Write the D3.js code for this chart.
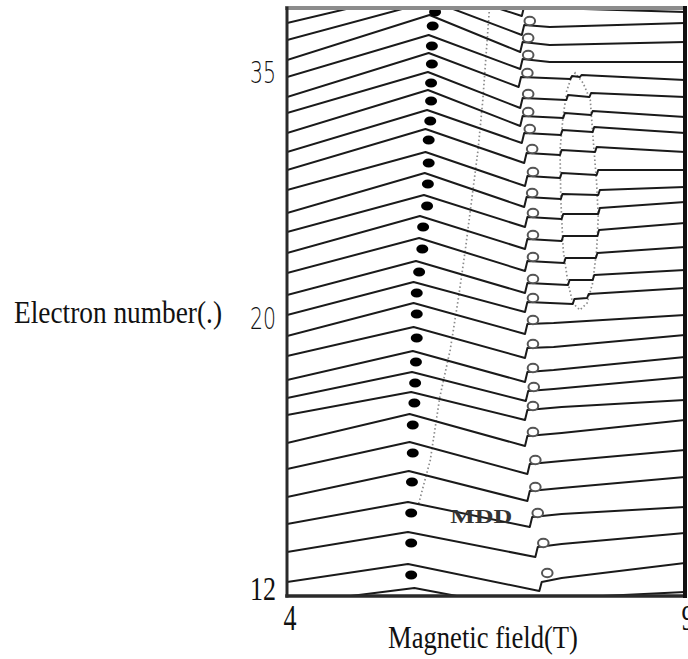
<!DOCTYPE html>
<html>
<head>
<meta charset="utf-8">
<script src="https://cdn.jsdelivr.net/npm/d3@7/dist/d3.min.js"></script>
<style>
  body { margin: 0; background: #fff; }
</style>
</head>
<body>
<div id="chart"></div>
<script>
// traces from top (0) to bottom (28), y in arbitrary units, field in T
var startY   = [59.0, 57.3, 55.6, 53.6, 51.9, 49.9, 48.3, 46.3, 44.4, 42.6, 40.6, 38.3, 36.4, 34.3, 32.3, 30.1, 28.1, 26.0, 24.0, 21.6, 19.8, 18.1, 15.3, 12.7, 9.9, 7.2, 4.4, 1.4, -0.8]
var apexB    = [5.88, 5.86, 5.82, 5.79, 5.78, 5.78, 5.77, 5.77, 5.76, 5.74, 5.74, 5.73, 5.72, 5.67, 5.66, 5.62, 5.59, 5.59, 5.59, 5.58, 5.57, 5.56, 5.54, 5.54, 5.53, 5.52, 5.52, 5.52, 5.60]
var apexY    = [62.6, 60.8, 59.5, 58.1, 56.1, 54.3, 52.4, 50.6, 48.6, 46.7, 44.4, 42.3, 40.1, 38.0, 35.8, 33.5, 31.4, 29.3, 26.9, 24.5, 22.4, 20.4, 18.2, 15.4, 12.5, 9.4, 6.4, 3.2, 0.8]
var stepB    = [6.95, 6.95, 6.95, 6.93, 6.93, 6.91, 6.93, 6.93, 6.95, 6.98, 6.99, 6.98, 6.99, 6.99, 6.99, 6.99, 6.99, 6.99, 6.99, 6.99, 7.00, 6.99, 6.99, 7.02, 7.02, 7.05, 7.12, 7.17, 7.20]
var dipY     = [59.8, 58.0, 56.1, 54.4, 52.7, 50.9, 48.8, 47.0, 45.3, 43.3, 41.0, 38.9, 36.9, 34.7, 32.5, 30.3, 28.4, 26.2, 23.8, 21.4, 19.5, 17.6, 15.0, 12.2, 9.5, 6.9, 3.9, 0.5, -1.6]
var stepTopY = [60.8, 59.0, 57.1, 55.4, 53.7, 51.9, 49.8, 48.0, 46.3, 44.3, 42.0, 39.9, 37.9, 35.7, 33.5, 31.3, 29.4, 27.2, 24.8, 22.4, 20.5, 18.6, 16.0, 13.2, 10.5, 7.9, 4.9, 1.4, -0.6]
var endY     = [60.1, 58.4, 57.3, 55.4, 53.4, 51.6, 49.9, 47.9, 46.3, 44.4, 42.6, 40.9, 39.4, 37.3, 34.9, 32.6, 30.8, 28.1, 26.1, 23.9, 21.9, 19.6, 17.6, 14.6, 11.9, 8.9, 6.3, 3.3, 0.4]

// knots between the step and the right edge (small steps where the dotted loop crosses)
var afterB = [
	[7.30], [7.30], [7.30], [7.30], [7.30],
	[7.56, 7.58, 7.68, 7.70],
	[7.51, 7.53, 7.80, 7.82],
	[7.47, 7.49, 7.82, 7.84],
	[7.44, 7.46, 7.84, 7.86],
	[7.43, 7.45, 7.87, 7.89],
	[7.43, 7.45, 7.89, 7.91],
	[7.44, 7.46, 7.91, 7.93],
	[7.45, 7.47, 7.91, 7.93],
	[7.45, 7.47, 7.90, 7.92],
	[7.48, 7.50, 7.88, 7.90],
	[7.53, 7.55, 7.84, 7.86],
	[7.59, 7.61, 7.77, 7.79],
	[7.35], [7.35], [7.35], [7.35],
	[7.45], [7.45], [7.45], [7.45], [7.45], [7.45], [7.45], [7.45]
]
var afterY = [
	[60.6], [58.8], [56.9], [55.1], [53.4],
	[51.7, 52.0, 51.9, 52.1],
	[49.6, 50.1, 49.9, 50.3],
	[47.8, 48.3, 48.1, 48.5],
	[46.1, 46.6, 46.4, 46.9],
	[44.1, 44.6, 44.4, 44.9],
	[41.8, 42.3, 42.1, 42.6],
	[39.7, 40.2, 40.1, 40.6],
	[37.7, 38.2, 38.2, 38.8],
	[35.5, 36.0, 36.0, 36.6],
	[33.3, 33.8, 33.8, 34.3],
	[31.1, 31.6, 31.6, 32.1],
	[29.2, 29.7, 29.8, 30.2],
	[27.3], [24.9], [22.6], [20.7],
	[18.9], [16.3], [13.5], [10.8], [8.2], [5.2], [1.8], [-0.2]
]

// filled dots (peak) and open circles (step)
var dotB    = [5.86, 5.83, 5.82, 5.82, 5.81, 5.81, 5.80, 5.78, 5.78, 5.77, 5.76, 5.71, 5.70, 5.66, 5.63, 5.63, 5.63, 5.62, 5.61, 5.60, 5.58, 5.58, 5.57, 5.56, 5.56, 5.56]
var dotY    = [58.4, 57.0, 55.0, 53.2, 51.3, 49.5, 47.5, 45.6, 43.3, 41.2, 39.0, 36.9, 34.7, 32.4, 30.3, 28.2, 25.8, 23.4, 21.3, 19.3, 17.1, 14.3, 11.4, 8.3, 5.3, 2.1]
var circleB = [7.05, 7.03, 7.03, 7.02, 7.03, 7.03, 7.05, 7.08, 7.09, 7.08, 7.09, 7.09, 7.09, 7.09, 7.09, 7.09, 7.09, 7.09, 7.10, 7.09, 7.09, 7.12, 7.12, 7.15, 7.22, 7.27]
var circleY = [57.5, 55.8, 54.1, 52.3, 50.2, 48.4, 46.7, 44.7, 42.4, 40.3, 38.3, 36.1, 33.9, 31.7, 29.8, 27.6, 25.2, 22.8, 20.9, 19.0, 16.4, 13.6, 10.9, 8.3, 5.3, 2.3]

// dotted guide lines
var mddB = [6.54, 6.46, 6.40, 6.32, 6.24, 6.15, 6.05, 5.92, 5.80, 5.65]
var mddY = [58.4, 49.6, 44.6, 39.6, 34.6, 29.6, 24.6, 19.9, 13.6, 9.1]
var loopB = [7.51, 7.56, 7.62, 7.72, 7.81, 7.84, 7.89, 7.91, 7.89, 7.84, 7.77, 7.68, 7.59, 7.53, 7.47, 7.44, 7.43, 7.47, 7.51]
var loopY = [50.4, 51.6, 52.3, 51.3, 49.6, 46.3, 41.3, 37.9, 34.6, 31.3, 29.3, 28.6, 29.3, 31.3, 34.6, 39.6, 44.6, 48.1, 50.1]

var yTickValues = [52.4, 27.8, 0.9]
var yTickLabels = ['35', '20', '12']
var xTickValues = [4, 9]

var width = 688
var height = 659
var frame = { left: 287, right: 685, top: 8, bottom: 596 }

var svg = d3.select('#chart').append('svg')
	.attr('width', width)
	.attr('height', height)
	.style('font-family', 'Liberation Serif, serif')

var xScale = d3.scaleLinear()
	.domain([4, 9])
	.range([frame.left, frame.right])

var yScale = d3.scaleLinear()
	.domain([0, 58.8])
	.range([frame.bottom, frame.top])

svg.append('clipPath').attr('id', 'plot-clip')
	.append('rect')
	.attr('x', frame.left)
	.attr('y', frame.top)
	.attr('width', frame.right - frame.left)
	.attr('height', frame.bottom - frame.top)

var plot = svg.append('g').attr('clip-path', 'url(#plot-clip)')

var line = d3.line()
	.x(function(d) { return xScale(d[0]) })
	.y(function(d) { return yScale(d[1]) })

var traces = startY.map(function(s, i) {
	var pts = [
		[4, s],
		[apexB[i], apexY[i]],
		[stepB[i], dipY[i]],
		[stepB[i] + 0.03, stepTopY[i]]
	]
	afterB[i].forEach(function(b, j) { pts.push([b, afterY[i][j]]) })
	pts.push([9, endY[i]])
	return pts
})

// dotted lines under the traces
plot.append('path')
	.attr('d', line(mddB.map(function(b, i) { return [b, mddY[i]] })))
	.attr('fill', 'none')
	.attr('stroke', '#8a8a8a')
	.attr('stroke-width', 1.7)
	.attr('stroke-dasharray', '1.5,2.5')

plot.append('path')
	.attr('d', line(loopB.map(function(b, i) { return [b, loopY[i]] })))
	.attr('fill', 'none')
	.attr('stroke', '#8a8a8a')
	.attr('stroke-width', 1.7)
	.attr('stroke-dasharray', '1.5,2.5')

plot.selectAll('.trace')
	.data(traces)
	.enter().append('path')
	.attr('class', 'trace')
	.attr('d', line)
	.attr('fill', 'none')
	.attr('stroke', '#1a1a1a')
	.attr('stroke-width', 2)
	.attr('stroke-linejoin', 'round')

plot.selectAll('.dot')
	.data(dotB)
	.enter().append('ellipse')
	.attr('class', 'dot')
	.attr('cx', function(d) { return xScale(d) })
	.attr('cy', function(d, i) { return yScale(dotY[i]) })
	.attr('rx', 6)
	.attr('ry', 4.6)
	.attr('fill', '#000')

plot.selectAll('.open')
	.data(circleB)
	.enter().append('ellipse')
	.attr('class', 'open')
	.attr('cx', function(d) { return xScale(d) })
	.attr('cy', function(d, i) { return yScale(circleY[i]) })
	.attr('rx', 5.3)
	.attr('ry', 4.3)
	.attr('fill', '#fff')
	.attr('stroke', '#555')
	.attr('stroke-width', 2)

plot.append('text')
	.attr('x', xScale(6.05))
	.attr('y', yScale(7.3))
	.attr('font-size', 18)
	.attr('font-weight', 'bold')
	.attr('fill', '#333')
	.attr('textLength', 62)
	.attr('lengthAdjust', 'spacingAndGlyphs')
	.text('MDD')

// frame: grey top edge, dark sides
var edges = [
	[frame.left, frame.top, frame.right, frame.top, '#8c8c8c', 4],
	[frame.left, frame.top, frame.left, frame.bottom, '#2a2a2a', 3],
	[frame.left, frame.bottom, frame.right, frame.bottom, '#2a2a2a', 3.5],
	[frame.right, frame.top, frame.right, frame.bottom, '#111', 4]
]
svg.selectAll('.edge')
	.data(edges)
	.enter().append('line')
	.attr('class', 'edge')
	.attr('x1', function(d) { return d[0] })
	.attr('y1', function(d) { return d[1] })
	.attr('x2', function(d) { return d[2] })
	.attr('y2', function(d) { return d[3] })
	.attr('stroke', function(d) { return d[4] })
	.attr('stroke-width', function(d) { return d[5] })
	.attr('stroke-linecap', 'square')

// y tick labels
var yAxis = svg.append('g')
	.attr('transform', 'translate(' + (frame.left - 11) + ',0)')
	.call(d3.axisLeft(yScale)
		.tickValues(yTickValues)
		.tickSize(0)
		.tickPadding(0)
		.tickFormat(function(d, i) { return yTickLabels[i] }))
yAxis.select('.domain').remove()
yAxis.selectAll('text')
	.attr('fill', '#111')
	.attr('font-size', function(d, i) { return i < 2 ? 30 : 34 })
	.attr('font-family', function(d, i) { return i < 2 ? 'DejaVu Sans' : 'Liberation Serif' })
	.attr('font-weight', function(d, i) { return i < 2 ? 200 : 400 })
	.attr('textLength', 26)
	.attr('lengthAdjust', 'spacingAndGlyphs')
	.attr('dy', '0.36em')

var xAxis = svg.append('g')
	.attr('transform', 'translate(0,' + frame.bottom + ')')
	.call(d3.axisBottom(xScale)
		.tickValues(xTickValues)
		.tickSize(0)
		.tickPadding(0)
		.tickFormat(d3.format('d')))
xAxis.select('.domain').remove()
xAxis.selectAll('text')
	.attr('fill', '#111')
	.attr('font-size', 36)
	.attr('font-family', 'Liberation Serif')
	.attr('textLength', 13)
	.attr('lengthAdjust', 'spacingAndGlyphs')
	.attr('text-anchor', 'start')
	.attr('x', -4)
	.attr('y', 34)
	.attr('dy', 0)

svg.append('text')
	.attr('x', 388)
	.attr('y', 648)
	.attr('font-size', 31)
	.attr('fill', '#111')
	.attr('textLength', 190)
	.attr('lengthAdjust', 'spacingAndGlyphs')
	.text('Magnetic field(T)')

svg.append('text')
	.attr('x', 14)
	.attr('y', 323)
	.attr('font-size', 31)
	.attr('fill', '#111')
	.attr('textLength', 208)
	.attr('lengthAdjust', 'spacingAndGlyphs')
	.text('Electron number(.)')
</script>
</body>
</html>
